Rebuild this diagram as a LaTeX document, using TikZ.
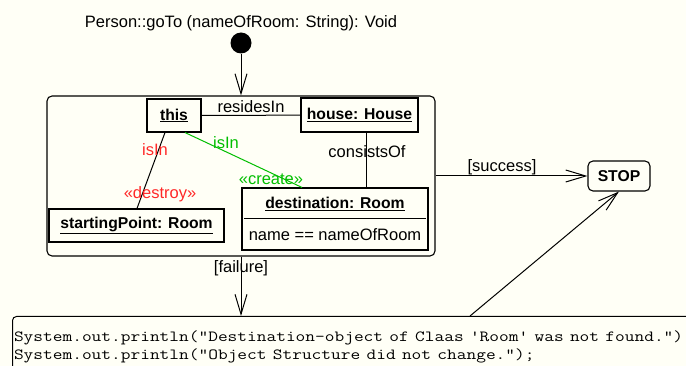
\documentclass[tikz,border=0pt]{standalone}
\usepackage{fontspec}
\usepackage{graphicx}
\setsansfont{Liberation Sans}
\usetikzlibrary{arrows.meta}
\definecolor{bg}{RGB}{255,255,246}
\definecolor{delred}{RGB}{255,40,40}
\definecolor{newgreen}{RGB}{0,190,0}
\newcommand{\codeline}[1]{\scalebox{1.217}[1]{#1}}
\tikzset{
  lbl/.style={font=\sffamily\fontsize{16.5}{18}\selectfont, inner sep=1pt},
  obj/.style={draw, line width=1.1pt, inner sep=0pt,
    font=\sffamily\bfseries\fontsize{15.7}{18}\selectfont},
  act/.style={draw, line width=1.1pt, rounded corners=5pt},
  trans/.style={-{Straight Barb[length=20pt,width=12pt]}, line width=1pt},
}
\begin{document}
\begin{tikzpicture}[x=1pt, y=-1pt, line width=1pt]
  \fill[bg] (0,0) rectangle (686,366);
  \useasboundingbox (0,0) rectangle (686,366);
  % start of the method
  \node[lbl] (title) at (241,23) {Person::goTo (nameOfRoom: String): Void};
  \node[circle, fill, minimum size=21, inner sep=0pt] (start) at (241,43) {};
  % story pattern
  \node[act, minimum width=388, minimum height=160] (story) at (241,176) {};
  \node[obj, minimum width=54, minimum height=33] (this) at (174,115.5) {\underline{this}};
  \node[obj, minimum width=117, minimum height=34] (house) at (359.5,115) {\underline{house: House}};
  \node[obj, minimum width=175, minimum height=33] (from) at (136.5,225.5) {\underline{startingPoint: Room}};
  \node[obj, minimum width=186, minimum height=62] (dest) at (335,219) {};
  \node[obj, draw=none] (destname) at (335,204) {\underline{destination: Room}};
  \node[lbl] (destattr) at (335,235) {name == nameOfRoom};
  \draw ([xshift=3pt]dest.west) -- ([xshift=-3pt]dest.east);
  % links
  \draw (this) -- (house);
  \node[lbl] (resides) at (251,107) {residesIn};
  \draw ([xshift=6.5pt]house.south) -- ([xshift=6.5pt]house.south |- dest.north);
  \node[lbl] (consists) at (367,152) {consistsOf};
  \draw ([xshift=-9pt]this.south) -- ([xshift=0.5pt]from.north);
  \node[lbl, text=delred] (oldin) at (155,150) {isIn};
  \node[lbl, text=delred] (destroy) at (160,194) {«destroy»};
  \draw[newgreen] ([xshift=11pt]this.south) -- ([xshift=-33pt]dest.north);
  \node[lbl, text=newgreen] (newin) at (226,143) {isIn};
  \node[lbl, text=newgreen] (create) at (271,179) {«create»};
  % stop and failure
  \node[draw, line width=1.1pt, rounded corners=5pt, minimum width=62, minimum height=30,
    font=\sffamily\bfseries\fontsize{15.7}{18}\selectfont] (stop) at (619,176) {STOP};
  \node[draw, rounded corners=4pt, anchor=north west, text width=760,
    minimum height=60, align=left, inner xsep=1.5pt, inner ysep=3pt,
    font=\ttfamily\fontsize{15.5}{18}\selectfont] (code) at (12,316)
    {\codeline{System.out.println("Destination-object of Claas 'Room' was not found.");}\\
     \codeline{System.out.println("Object Structure did not change.");}};
  \coordinate (codeend) at (470,316);
  % transitions
  \draw[trans] (start) -- (story.north);
  \draw[trans] (story.east |- stop) -- (stop.west);
  \node[lbl] (success) at (502,167) {[success]};
  \draw[trans] (story.south) -- (story.south |- code.north);
  \node[lbl] (failure) at (241,268) {[failure]};
  \draw[trans] (codeend) -- (stop.south);
\end{tikzpicture}
\end{document}
